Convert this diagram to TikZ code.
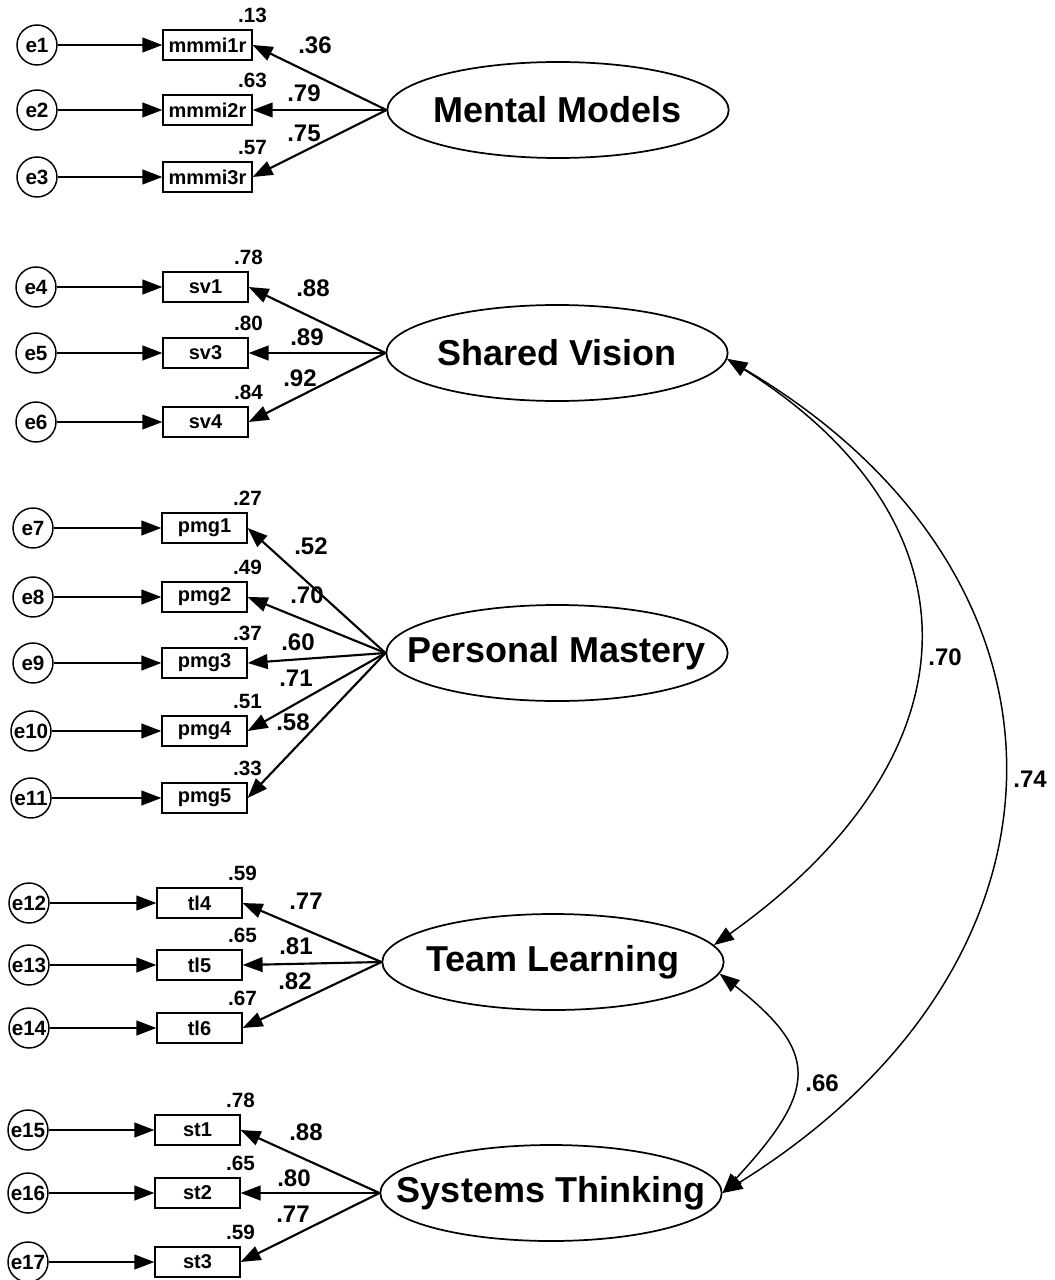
\documentclass[tikz,border=0pt]{standalone}
\usepackage{fontspec}
\setmainfont{Liberation Sans}
\usetikzlibrary{arrows.meta,positioning,shapes.geometric}

\begin{document}
\begin{tikzpicture}[x=0.75pt, y=-0.75pt,
    every node/.style={font=\bfseries},
    errvar/.style={draw, circle, line width=1.1pt, minimum size=30pt, inner sep=0pt, font=\fontsize{15.5}{15.5}\selectfont\bfseries},
    indic/.style={draw, rectangle, line width=0.9pt, minimum width=63.75pt, minimum height=22.5pt, inner sep=1pt, font=\fontsize{15}{15}\selectfont\bfseries},
    latent/.style={draw, ellipse, line width=1.3pt, minimum width=256pt, minimum height=72pt, inner xsep=-28pt, inner ysep=0pt, font=\fontsize{27}{27}\selectfont\bfseries},
    rsq/.style={inner sep=0pt, font=\fontsize{15.5}{15.5}\selectfont\bfseries},
    ldg/.style={inner sep=0pt, font=\fontsize{18}{18}\selectfont\bfseries},
    regarrow/.style={-{Triangle[length=15pt,width=11pt]}, line width=1.6pt},
    covarrow/.style={{Triangle[length=15pt,width=11pt]}-{Triangle[length=15pt,width=11pt]}, line width=1.1pt}]
    \useasboundingbox (0,0) rectangle (1055,1280);

    % Mental Models
    \node[latent] (mm) at (558,110) {Mental Models};
    \node[errvar] (e1) at (37,45) {e1};
    \node[errvar] (e2) at (37,110) {e2};
    \node[errvar] (e3) at (37,177) {e3};
    \node[indic, minimum width=66.75pt] (mmmi1r) at (207.5,45) {mmmi1r};
    \node[indic, minimum width=66.75pt] (mmmi2r) at (207.5,110) {mmmi2r};
    \node[indic, minimum width=66.75pt] (mmmi3r) at (207.5,177) {mmmi3r};
    \node[rsq, above=5pt of mmmi1r.north east] (r1) {.13};
    \node[rsq, above=5pt of mmmi2r.north east] (r2) {.63};
    \node[rsq, above=5pt of mmmi3r.north east] (r3) {.57};
    \node[ldg] (l1) at (315,45) {.36};
    \node[ldg] (l2) at (304,93) {.79};
    \node[ldg] (l3) at (304,133) {.75};

    % Shared Vision
    \node[latent] (sv) at (557,353) {Shared Vision};
    \node[errvar] (e4) at (36,287) {e4};
    \node[errvar] (e5) at (36,353) {e5};
    \node[errvar] (e6) at (36,422) {e6};
    \node[indic] (sv1) at (205.5,287) {sv1};
    \node[indic] (sv3) at (205.5,353) {sv3};
    \node[indic] (sv4) at (205.5,422) {sv4};
    \node[rsq, above=5pt of sv1.north east] (r4) {.78};
    \node[rsq, above=5pt of sv3.north east] (r5) {.80};
    \node[rsq, above=5pt of sv4.north east] (r6) {.84};
    \node[ldg] (l4) at (313,288) {.88};
    \node[ldg] (l5) at (307,337) {.89};
    \node[ldg] (l6) at (300,378) {.92};

    % Personal Mastery
    \node[latent] (pm) at (557,653) {Personal Mastery};
    \node[errvar] (e7) at (33,528) {e7};
    \node[errvar] (e8) at (33,597) {e8};
    \node[errvar] (e9) at (33,663) {e9};
    \node[errvar] (e10) at (31,731) {e10};
    \node[errvar] (e11) at (31,798) {e11};
    \node[indic] (pmg1) at (204.5,528) {pmg1};
    \node[indic] (pmg2) at (204.5,597) {pmg2};
    \node[indic] (pmg3) at (204.5,663) {pmg3};
    \node[indic] (pmg4) at (204.5,731) {pmg4};
    \node[indic] (pmg5) at (204.5,798) {pmg5};
    \node[rsq, above=5pt of pmg1.north east] (r7) {.27};
    \node[rsq, above=5pt of pmg2.north east] (r8) {.49};
    \node[rsq, above=5pt of pmg3.north east] (r9) {.37};
    \node[rsq, above=5pt of pmg4.north east] (r10) {.51};
    \node[rsq, above=5pt of pmg5.north east] (r11) {.33};
    \node[ldg] (l7) at (311,546) {.52};
    \node[ldg] (l8) at (307,595) {.70};
    \node[ldg] (l9) at (298,642) {.60};
    \node[ldg] (l10) at (296,678) {.71};
    \node[ldg] (l11) at (293,722) {.58};

    % Team Learning
    \node[latent] (tl) at (553,962) {Team Learning};
    \node[errvar] (e12) at (29,903) {e12};
    \node[errvar] (e13) at (29,965) {e13};
    \node[errvar] (e14) at (29,1028) {e14};
    \node[indic] (tl4) at (199.5,903) {tl4};
    \node[indic] (tl5) at (199.5,965) {tl5};
    \node[indic] (tl6) at (199.5,1028) {tl6};
    \node[rsq, above=5pt of tl4.north east] (r12) {.59};
    \node[rsq, above=5pt of tl5.north east] (r13) {.65};
    \node[rsq, above=5pt of tl6.north east] (r14) {.67};
    \node[ldg] (l12) at (306,901) {.77};
    \node[ldg] (l13) at (296,946) {.81};
    \node[ldg] (l14) at (295,981) {.82};

    % Systems Thinking
    \node[latent] (st) at (551,1193) {Systems Thinking};
    \node[errvar] (e15) at (28,1130) {e15};
    \node[errvar] (e16) at (28,1193) {e16};
    \node[errvar] (e17) at (28,1262) {e17};
    \node[indic] (st1) at (197.5,1130) {st1};
    \node[indic] (st2) at (197.5,1193) {st2};
    \node[indic] (st3) at (197.5,1262) {st3};
    \node[rsq, above=5pt of st1.north east] (r15) {.78};
    \node[rsq, above=5pt of st2.north east] (r16) {.65};
    \node[rsq, above=5pt of st3.north east] (r17) {.59};
    \node[ldg] (l15) at (306,1132) {.88};
    \node[ldg] (l16) at (294,1178) {.80};
    \node[ldg] (l17) at (293,1214) {.77};

    % error terms
    \draw[regarrow] (e1)--(mmmi1r);
    \draw[regarrow] (e2)--(mmmi2r);
    \draw[regarrow] (e3)--(mmmi3r);
    \draw[regarrow] (e4)--(sv1);
    \draw[regarrow] (e5)--(sv3);
    \draw[regarrow] (e6)--(sv4);
    \draw[regarrow] (e7)--(pmg1);
    \draw[regarrow] (e8)--(pmg2);
    \draw[regarrow] (e9)--(pmg3);
    \draw[regarrow] (e10)--(pmg4);
    \draw[regarrow] (e11)--(pmg5);
    \draw[regarrow] (e12)--(tl4);
    \draw[regarrow] (e13)--(tl5);
    \draw[regarrow] (e14)--(tl6);
    \draw[regarrow] (e15)--(st1);
    \draw[regarrow] (e16)--(st2);
    \draw[regarrow] (e17)--(st3);

    % loadings
    \draw[regarrow] (mm.west)--(mmmi1r.east);
    \draw[regarrow] (mm.west)--(mmmi2r.east);
    \draw[regarrow] (mm.west)--(mmmi3r.east);
    \draw[regarrow] (sv.west)--(sv1.east);
    \draw[regarrow] (sv.west)--(sv3.east);
    \draw[regarrow] (sv.west)--(sv4.east);
    \draw[regarrow] (pm.west)--(pmg1.east);
    \draw[regarrow] (pm.west)--(pmg2.east);
    \draw[regarrow] (pm.west)--(pmg3.east);
    \draw[regarrow] (pm.west)--(pmg4.east);
    \draw[regarrow] (pm.west)--(pmg5.east);
    \draw[regarrow] (tl.west)--(tl4.east);
    \draw[regarrow] (tl.west)--(tl5.east);
    \draw[regarrow] (tl.west)--(tl6.east);
    \draw[regarrow] (st.west)--(st1.east);
    \draw[regarrow] (st.west)--(st2.east);
    \draw[regarrow] (st.west)--(st3.east);

    % correlations
    \draw[covarrow] (sv.-2) .. controls (984,520) and (984,753) .. (tl.6);
    \draw[covarrow] (sv.-2) .. controls (1095,576) and (1095,961) .. (st.east);
    \draw[covarrow] (tl.-4) .. controls (819,1052) and (819,1089) .. (st.east);
    \node[ldg] (c1) at (945,657) {.70};
    \node[ldg] (c2) at (1030,779) {.74};
    \node[ldg] (c3) at (822,1083) {.66};
\end{tikzpicture}
\end{document}
